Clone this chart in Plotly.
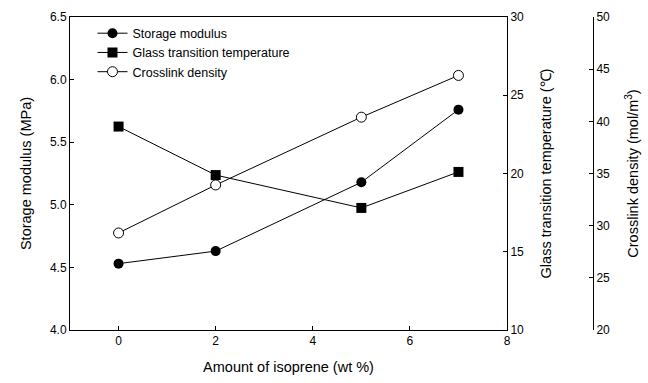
import plotly.graph_objects as go

# Amount of isoprene (wt %)
isoprene = [0, 2, 5, 7]
# Storage modulus (MPa)
storage_modulus = [4.53, 4.63, 5.18, 5.76]
# Glass transition temperature (°C)
glass_transition = [23.0, 19.9, 17.8, 20.1]
# Crosslink density (mol/m^3)
crosslink_density = [29.3, 33.9, 40.4, 44.4]

x_ticks = [0, 2, 4, 6, 8]
left_ticks = [4.0, 4.5, 5.0, 5.5, 6.0, 6.5]
tg_ticks = [10, 15, 20, 25, 30]
cd_ticks = [20, 25, 30, 35, 40, 45, 50]

FONT = "Liberation Sans, Arial, sans-serif"
TITLE_SIZE = 14.5
line_style = dict(color="black", width=1)

fig = go.Figure()
fig.add_trace(go.Scatter(
    x=isoprene, y=storage_modulus, name="Storage modulus",
    mode="lines+markers", line=line_style,
    marker=dict(symbol="circle", size=10, color="black"),
    yaxis="y"))
fig.add_trace(go.Scatter(
    x=isoprene, y=glass_transition, name="Glass transition temperature",
    mode="lines+markers", line=line_style,
    marker=dict(symbol="square", size=10, color="black"),
    yaxis="y2"))
fig.add_trace(go.Scatter(
    x=isoprene, y=crosslink_density, name="Crosslink density",
    mode="lines+markers", line=line_style,
    marker=dict(symbol="circle", size=10, color="white",
                line=dict(color="black", width=1)),
    yaxis="y3"))

axis_common = dict(showgrid=False, zeroline=False, showline=True,
                   linecolor="black", linewidth=1, ticks="inside",
                   ticklen=4, tickcolor="black",
                   tickfont=dict(size=12, color="black", family=FONT))

fig.update_layout(
    width=648, height=383,
    margin=dict(l=70, r=55, t=10, b=53),
    paper_bgcolor="white", plot_bgcolor="white",
    font=dict(family=FONT, color="black", size=12),
    showlegend=True,
    legend=dict(x=0.043, y=0.995, xanchor="left", yanchor="top",
                bgcolor="rgba(0,0,0,0)", font=dict(size=12.5, family=FONT),
                tracegroupgap=0, itemwidth=30),
    xaxis=dict(domain=[0, 0.8356], range=[-1, 8], tickvals=x_ticks,
               mirror=True,
               title=dict(text="Amount of isoprene (wt %)",
                          font=dict(size=TITLE_SIZE), standoff=14),
               **axis_common),
    yaxis=dict(range=[4.0, 6.5], tickvals=left_ticks, tickformat=".1f",
               title=dict(text="Storage modulus (MPa)",
                          font=dict(size=TITLE_SIZE), standoff=14),
               **axis_common),
    yaxis2=dict(range=[10, 30], tickvals=tg_ticks, overlaying="y",
                side="right", anchor="x",
                title=dict(text="Glass transition temperature (\u2103)",
                           font=dict(size=TITLE_SIZE), standoff=17),
                **axis_common),
    yaxis3=dict(range=[20, 50], tickvals=cd_ticks, overlaying="y",
                side="right", anchor="free", position=1.0,
                title=dict(text="Crosslink density (mol/m<sup>3</sup>)",
                           font=dict(size=TITLE_SIZE), standoff=18),
                **axis_common),
)

fig.write_html("out.html")
